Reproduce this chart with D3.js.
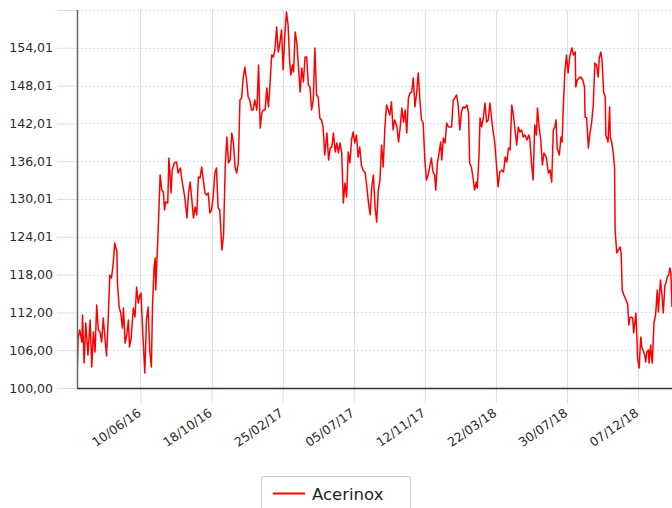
<!DOCTYPE html>
<html>
<head>
<meta charset="utf-8">
<script src="https://cdn.jsdelivr.net/npm/d3@7"></script>
<style>
  html, body { margin: 0; padding: 0; background: #fff; }
  svg { display: block; font-family: "DejaVu Sans", Verdana, sans-serif; }
</style>
</head>
<body>
<div id="chart"></div>
<script>
// series name and trading dates / closing prices
const seriesName = "Acerinox";

const dates = [
  "2016-02-15","2016-02-17","2016-02-20","2016-02-24","2016-02-25","2016-02-28","2016-03-02","2016-03-06","2016-03-10","2016-03-13",
  "2016-03-16","2016-03-19","2016-03-22","2016-03-25","2016-03-28","2016-03-31","2016-04-03","2016-04-09","2016-04-12","2016-04-15",
  "2016-04-18","2016-04-21","2016-04-24","2016-04-28","2016-04-29","2016-05-02","2016-05-05","2016-05-08","2016-05-10","2016-05-13",
  "2016-05-16","2016-05-19","2016-05-21","2016-05-24","2016-05-28","2016-05-31","2016-06-03","2016-06-06","2016-06-09","2016-06-11",
  "2016-06-14","2016-06-18","2016-06-21","2016-06-24","2016-06-27","2016-06-30","2016-07-02","2016-07-05","2016-07-07","2016-07-08",
  "2016-07-11","2016-07-14","2016-07-16","2016-07-19","2016-07-22","2016-07-24","2016-07-26","2016-07-30","2016-08-01","2016-08-03",
  "2016-08-05","2016-08-07","2016-08-11","2016-08-15","2016-08-18","2016-08-22","2016-08-24","2016-08-27","2016-08-30","2016-09-03",
  "2016-09-06","2016-09-09","2016-09-12","2016-09-15","2016-09-18","2016-09-21","2016-09-24","2016-09-27","2016-09-30","2016-10-03",
  "2016-10-06","2016-10-09","2016-10-12","2016-10-15","2016-10-18","2016-10-21","2016-10-24","2016-10-27","2016-10-30","2016-11-02",
  "2016-11-06","2016-11-09","2016-11-12","2016-11-15","2016-11-18","2016-11-21","2016-11-24","2016-11-27","2016-11-30","2016-12-03",
  "2016-12-06","2016-12-09","2016-12-12","2016-12-15","2016-12-18","2016-12-21","2016-12-24","2016-12-27","2016-12-30","2017-01-02",
  "2017-01-05","2017-01-09","2017-01-12","2017-01-15","2017-01-18","2017-01-21","2017-01-24","2017-01-27","2017-01-30","2017-02-02",
  "2017-02-05","2017-02-08","2017-02-11","2017-02-14","2017-02-17","2017-02-20","2017-02-23","2017-02-26","2017-03-01","2017-03-04",
  "2017-03-07","2017-03-10","2017-03-12","2017-03-15","2017-03-17","2017-03-20","2017-03-23","2017-03-26","2017-03-29","2017-04-01",
  "2017-04-04","2017-04-07","2017-04-10","2017-04-13","2017-04-16","2017-04-19","2017-04-22","2017-04-25","2017-04-28","2017-05-01",
  "2017-05-04","2017-05-07","2017-05-10","2017-05-13","2017-05-17","2017-05-20","2017-05-23","2017-05-26","2017-05-29","2017-06-01",
  "2017-06-04","2017-06-07","2017-06-10","2017-06-13","2017-06-16","2017-06-19","2017-06-22","2017-06-25","2017-06-28","2017-07-01",
  "2017-07-04","2017-07-07","2017-07-10","2017-07-13","2017-07-16","2017-07-19","2017-07-22","2017-07-26","2017-07-29","2017-08-01",
  "2017-08-04","2017-08-07","2017-08-10","2017-08-13","2017-08-16","2017-08-19","2017-08-22","2017-08-25","2017-08-28","2017-08-31",
  "2017-09-03","2017-09-06","2017-09-09","2017-09-12","2017-09-15","2017-09-18","2017-09-22","2017-09-25","2017-09-28","2017-10-01",
  "2017-10-04","2017-10-07","2017-10-10","2017-10-13","2017-10-16","2017-10-19","2017-10-22","2017-10-25","2017-10-28","2017-10-31",
  "2017-11-03","2017-11-06","2017-11-09","2017-11-12","2017-11-15","2017-11-18","2017-11-21","2017-11-24","2017-11-27","2017-11-30",
  "2017-12-02","2017-12-05","2017-12-08","2017-12-11","2017-12-13","2017-12-16","2017-12-19","2017-12-22","2017-12-25","2017-12-28",
  "2017-12-31","2018-01-03","2018-01-06","2018-01-09","2018-01-12","2018-01-15","2018-01-18","2018-01-21","2018-01-24","2018-01-28",
  "2018-01-31","2018-02-02","2018-02-05","2018-02-08","2018-02-11","2018-02-14","2018-02-16","2018-02-19","2018-02-21","2018-02-24",
  "2018-02-27","2018-03-02","2018-03-05","2018-03-08","2018-03-11","2018-03-13","2018-03-16","2018-03-20","2018-03-24","2018-03-26",
  "2018-03-29","2018-04-02","2018-04-05","2018-04-08","2018-04-11","2018-04-14","2018-04-17","2018-04-20","2018-04-23","2018-04-26",
  "2018-04-29","2018-05-02","2018-05-05","2018-05-08","2018-05-11","2018-05-14","2018-05-18","2018-05-21","2018-05-23","2018-05-26",
  "2018-05-29","2018-06-01","2018-06-04","2018-06-06","2018-06-09","2018-06-12","2018-06-15","2018-06-18","2018-06-22","2018-06-24",
  "2018-06-26","2018-06-29","2018-07-02","2018-07-05","2018-07-08","2018-07-10","2018-07-12","2018-07-16","2018-07-19","2018-07-21",
  "2018-07-23","2018-07-26","2018-07-29","2018-08-01","2018-08-04","2018-08-08","2018-08-11","2018-08-14","2018-08-15","2018-08-18",
  "2018-08-21","2018-08-24","2018-08-28","2018-08-31","2018-09-01","2018-09-04","2018-09-07","2018-09-10","2018-09-13","2018-09-16",
  "2018-09-19","2018-09-22","2018-09-25","2018-09-27","2018-09-30","2018-10-02","2018-10-05","2018-10-08","2018-10-09","2018-10-13",
  "2018-10-16","2018-10-17","2018-10-20","2018-10-23","2018-10-25","2018-10-26","2018-10-29","2018-11-01","2018-11-04","2018-11-06",
  "2018-11-08","2018-11-11","2018-11-15","2018-11-18","2018-11-20","2018-11-22","2018-11-24","2018-11-27","2018-11-29","2018-12-03",
  "2018-12-05","2018-12-06","2018-12-09","2018-12-11","2018-12-12","2018-12-14","2018-12-16","2018-12-19","2018-12-21","2018-12-23",
  "2018-12-26","2018-12-27","2018-12-30","2019-01-01","2019-01-02","2019-01-05","2019-01-08","2019-01-11","2019-01-13","2019-01-15",
  "2019-01-17","2019-01-20","2019-01-22","2019-01-25","2019-01-27","2019-01-29","2019-02-01","2019-02-03","2019-02-05","2019-02-07"
];

const prices = [
  101.30,107.94,109.21,107.30,111.59,103.97,110.32,105.24,110.80,103.33,
  108.89,105.72,113.18,109.21,108.89,107.30,111.11,105.08,110.80,117.94,
  117.46,119.53,123.02,121.59,116.67,112.86,111.91,109.53,112.70,107.14,
  108.41,110.80,106.51,107.94,112.70,111.27,116.03,113.49,114.76,115.08,
  109.21,102.38,110.80,112.86,106.03,103.33,112.86,119.21,120.64,115.56,
  121.91,128.74,133.82,131.43,131.12,128.26,129.53,129.37,136.51,134.13,
  130.96,134.61,135.72,135.88,134.13,134.93,133.50,131.91,130.32,126.99,
  130.96,132.70,129.85,126.99,128.74,127.47,133.50,133.34,135.09,133.02,
  130.96,130.64,130.96,127.78,128.26,130.32,134.13,134.93,128.58,128.26,
  121.91,124.29,135.09,139.85,135.72,136.20,140.48,138.90,135.09,134.13,
  135.72,145.72,146.04,149.37,150.96,148.90,146.20,145.72,144.14,144.14,
  145.72,144.14,151.28,141.28,143.66,144.14,144.14,147.63,144.61,148.42,
  152.87,152.55,153.66,157.31,153.34,154.77,156.84,150.49,156.04,159.69,
  157.63,151.60,149.69,151.28,150.17,156.52,154.77,150.96,146.99,150.80,
  148.58,152.55,152.55,148.10,147.79,144.14,145.72,153.98,146.52,146.20,
  142.87,142.55,141.44,136.99,140.48,136.20,138.10,138.26,140.48,137.47,
  138.90,137.31,138.90,137.31,129.37,132.55,130.32,137.47,135.72,139.37,
  140.64,138.90,140.17,136.67,138.26,135.40,134.61,134.13,131.91,129.37,
  127.47,131.91,133.82,128.74,126.35,131.43,133.02,138.58,135.09,141.44,
  144.93,144.14,143.34,145.41,140.96,142.55,141.44,139.05,141.44,144.45,
  142.23,144.14,140.48,146.04,146.83,146.99,149.22,144.61,146.83,150.01,
  145.72,142.55,142.07,136.20,133.02,133.82,135.09,136.51,134.29,133.82,
  131.43,135.72,137.31,139.05,136.20,139.69,138.90,142.07,141.44,141.44,
  141.44,145.72,146.04,146.52,144.93,140.96,143.82,144.61,144.45,144.93,
  143.66,135.72,135.09,133.50,131.43,132.70,131.75,136.67,142.87,141.44,
  142.87,145.25,142.23,142.55,145.25,143.66,141.28,138.90,134.29,131.91,
  134.29,134.61,134.29,136.67,135.88,138.10,137.79,144.93,143.34,140.96,
  138.58,141.44,140.64,140.96,139.85,140.17,139.37,140.17,139.53,135.72,
  133.02,141.75,140.17,144.45,141.44,139.37,135.40,137.31,136.67,135.40,
  134.13,134.61,132.70,140.96,141.44,142.55,138.10,136.99,139.85,139.05,
  144.14,150.01,152.87,150.01,152.55,153.98,152.87,153.34,147.79,148.90,
  149.22,149.37,148.90,147.79,143.02,142.87,138.10,140.48,142.07,144.93,
  151.60,151.28,149.37,152.39,153.34,152.07,146.99,146.20,140.17,139.05,
  144.61,139.85,138.90,136.99,134.93,125.08,121.43,121.91,122.39,121.43,
  115.56,114.76,113.97,113.18,110.00,111.11,111.27,111.11,108.73,111.91,
  107.62,104.76,103.18,106.83,108.10,106.35,106.03,105.24,104.13,105.72,
  106.03,103.97,106.83,104.45,103.97,110.32,111.59,115.56,112.07,114.76,
  117.15,114.45,111.91,116.35,116.67,117.62,117.94,119.05,118.26,112.86
];

const yTicks = [100.00, 106.00, 112.00, 118.00, 124.01, 130.01, 136.01, 142.01, 148.01, 154.01];
const yTop = 160.01;
const xTickLabels = ["10/06/16", "18/10/16", "25/02/17", "05/07/17", "12/11/17", "22/03/18", "30/07/18", "07/12/18"];

const width = 672, height = 508;
const margin = { top: 10, left: 77, bottom: 120 };
const plotBottom = height - margin.bottom;

const parseDay = d3.timeParse("%Y-%m-%d");
const parseTick = d3.timeParse("%d/%m/%y");
const data = dates.map((d, i) => ({ date: parseDay(d), value: prices[i] }));

const x = d3.scaleTime()
  .domain(d3.extent(data, d => d.date))
  .range([margin.left, width]);

const y = d3.scaleLinear()
  .domain([100, yTop])
  .range([plotBottom, margin.top]);

const svg = d3.select("#chart").append("svg")
  .attr("width", width)
  .attr("height", height);

const gridBlue = "#d3e2f3";

// horizontal dotted grid
svg.append("g")
  .selectAll("line")
  .data(yTicks.concat([yTop]))
  .join("line")
  .attr("x1", margin.left)
  .attr("x2", width)
  .attr("y1", d => Math.round(y(d)) + 0.5)
  .attr("y2", d => Math.round(y(d)) + 0.5)
  .attr("stroke", gridBlue)
  .attr("stroke-dasharray", "2,2");

// vertical solid grid
const xTicks = xTickLabels.map(parseTick);
svg.append("g")
  .selectAll("line")
  .data(xTicks)
  .join("line")
  .attr("x1", d => Math.round(x(d)) + 0.5)
  .attr("x2", d => Math.round(x(d)) + 0.5)
  .attr("y1", margin.top)
  .attr("y2", plotBottom)
  .attr("stroke", gridBlue);

// y axis
const yAxis = svg.append("g")
  .attr("transform", `translate(${margin.left},0)`)
  .call(d3.axisLeft(y)
    .tickValues(yTicks.concat([yTop]))
    .tickSize(20)
    .tickPadding(4)
    .tickFormat(d => d === yTop ? "" : d3.format(".2f")(d).replace(".", ",")));
yAxis.select(".domain").remove();
yAxis.selectAll(".tick line").attr("stroke", gridBlue);
yAxis.selectAll(".tick text")
  .attr("fill", "#2b2b2b")
  .style("font-size", "12.5px")
  .style("font-family", "'DejaVu Sans', Verdana, sans-serif");

// x axis
const xAxis = svg.append("g")
  .attr("transform", `translate(0,${plotBottom})`)
  .call(d3.axisBottom(x)
    .tickValues(xTicks)
    .tickSize(15)
    .tickFormat(d3.timeFormat("%d/%m/%y")));
xAxis.select(".domain").remove();
xAxis.selectAll(".tick line").attr("stroke", gridBlue);
xAxis.selectAll(".tick text")
  .attr("fill", "#2b2b2b")
  .style("font-size", "12.5px")
  .style("font-family", "'DejaVu Sans', Verdana, sans-serif")
  .attr("text-anchor", "end")
  .attr("x", 0)
  .attr("y", 0)
  .attr("dy", 0)
  .attr("transform", "translate(1,27) rotate(-35)");

// the series line
svg.append("clipPath").attr("id", "plot-clip")
  .append("rect")
  .attr("x", margin.left).attr("y", 0)
  .attr("width", width - margin.left).attr("height", plotBottom);

svg.append("path")
  .datum(data)
  .attr("clip-path", "url(#plot-clip)")
  .attr("fill", "none")
  .attr("stroke", "#ff0000")
  .attr("stroke-width", 1.5)
  .attr("stroke-linejoin", "round")
  .attr("d", d3.line().x(d => x(d.date)).y(d => y(d.value)));

// axis frame lines
svg.append("line")
  .attr("x1", margin.left + 0.5).attr("x2", margin.left + 0.5)
  .attr("y1", margin.top).attr("y2", plotBottom)
  .attr("stroke", "#666").attr("stroke-width", 1.5);
svg.append("line")
  .attr("x1", margin.left).attr("x2", width)
  .attr("y1", plotBottom + 0.5).attr("y2", plotBottom + 0.5)
  .attr("stroke", "#333").attr("stroke-width", 1.5);

// legend
const legend = svg.append("g").attr("transform", "translate(261,476)");
legend.append("rect")
  .attr("x", 0.5).attr("y", 0.5)
  .attr("width", 149).attr("height", 40)
  .attr("rx", 2)
  .attr("fill", "#fff")
  .attr("stroke", "#ccc");
legend.append("line")
  .attr("x1", 12).attr("x2", 44)
  .attr("y1", 17.5).attr("y2", 17.5)
  .attr("stroke", "#ff0000").attr("stroke-width", 2);
legend.append("text")
  .attr("x", 51).attr("y", 23.5)
  .attr("fill", "#222")
  .style("font-size", "16.5px")
  .text(seriesName);
</script>
</body>
</html>
